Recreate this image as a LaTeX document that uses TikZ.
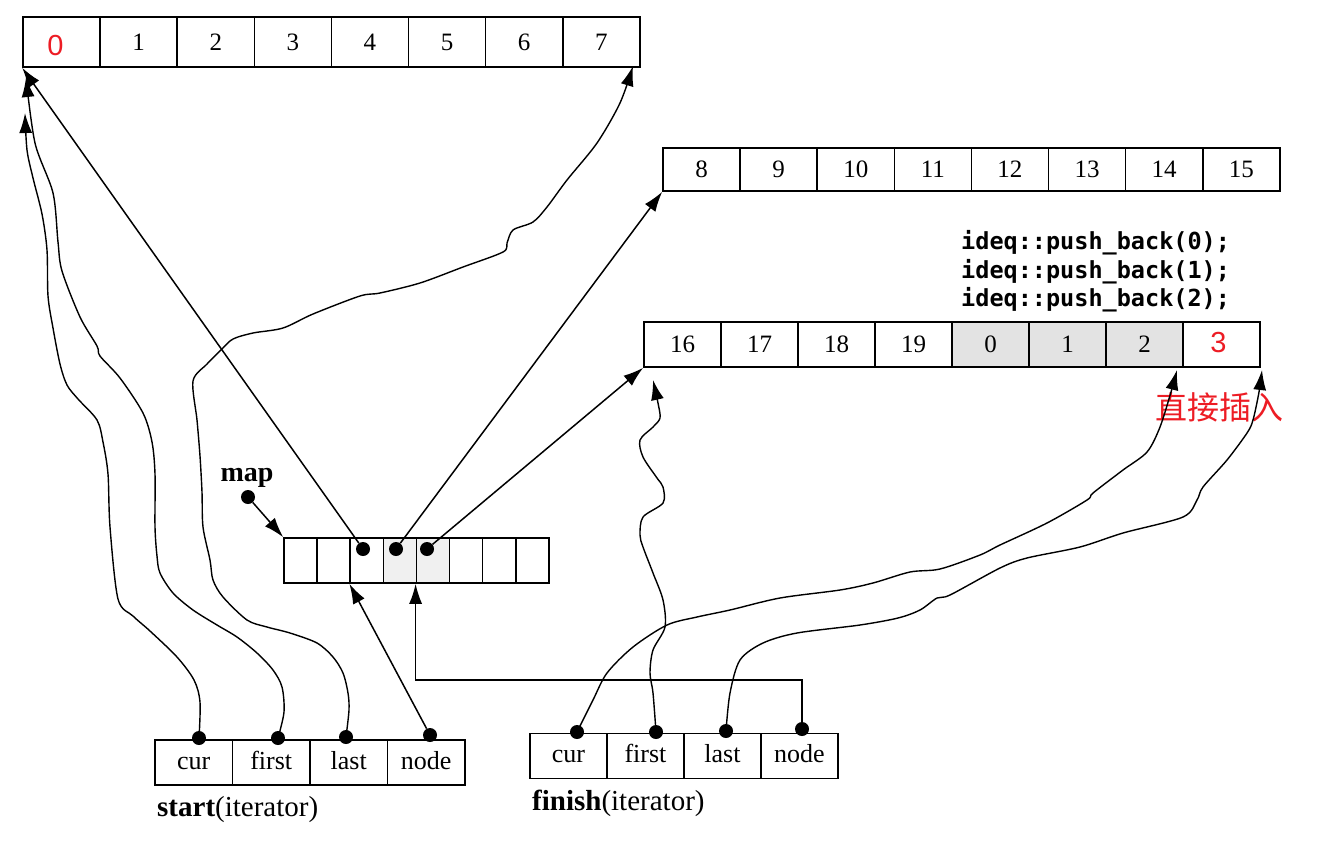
\documentclass[tikz,border=0pt]{standalone}
\usepackage{fontspec}
\setmainfont{Liberation Serif}
\newfontfamily\codefont{DejaVu Sans Mono}
\newfontfamily\cjkfont{Noto Sans CJK SC}
\newfontfamily\redsans{Liberation Sans}
\usetikzlibrary{arrows.meta}
\definecolor{redtxt}{RGB}{237,28,36}
\newcommand\rednum[1]{{\redsans\fontsize{29}{29}\selectfont\color{redtxt}#1}}
\begin{document}
\begin{tikzpicture}[x=1pt,y=-1pt,
  bcell/.style={draw, line width=1.6pt, inner sep=0pt, minimum width=77.1pt, text height=17pt, text depth=1pt, font=\fontsize{25}{27}\selectfont},
  mcell/.style={draw, line width=1.6pt, inner sep=0pt, minimum width=33.1pt, minimum height=45pt},
  icell/.style={draw, line width=1.6pt, inner sep=0pt, minimum height=45pt, text height=18pt, text depth=5pt, font=\fontsize{26}{28}\selectfont},
  dot/.style={circle, fill=black, inner sep=0pt, minimum size=14pt},
  ptr/.style={line width=1.5pt, -{Latex[length=20pt,width=13pt]}},
  wig/.style={line width=1.4pt, -{Latex[length=20pt,width=13pt]}},
  lab/.style={font=\fontsize{29}{31}\selectfont, inner sep=0pt},
  code/.style={font=\codefont\bfseries\fontsize{23.5}{24}\selectfont, anchor=west, inner sep=0pt}
]
\fill[white] (0,0) rectangle (1321,844);
\useasboundingbox (0,0) rectangle (1321,844);

% buffer 1
\foreach \t [count=\i from 0] in {{\hspace*{-12pt}\raisebox{-5pt}{\rednum{0}}},1,2,3,4,5,6,7}
  \node[bcell, minimum height=50pt] (a\i) at ({23+77.1*\i+38.55},42) {\t};
% buffer 2
\foreach \t [count=\i from 0] in {8,9,10,11,12,13,14,15}
  \node[bcell, minimum height=43pt] (b\i) at ({663+77.1*\i+38.55},169.5) {\t};
% buffer 3
\foreach \t/\f [count=\i from 0] in {16/white,17/white,18/white,19/white,0/gray!22,1/gray!22,2/gray!22,{\hspace*{-6pt}\rednum{3}}/white}
  \node[bcell, minimum height=45pt, fill=\f] (c\i) at ({644+77*\i+38.5},344.5) {\t};

% code text
\node[code] (l1) at (961,243) {ideq::push\_back(0);};
\node[code] (l2) at (961,272) {ideq::push\_back(1);};
\node[code] (l3) at (961,300) {ideq::push\_back(2);};
\node[font=\cjkfont\fontsize{32}{32}\selectfont, text=redtxt, inner sep=0pt] (zj) at (1219,407) {直接插入};

% map
\foreach \f [count=\i from 0] in {white,white,white,gray!12,gray!12,white,white,white}
  \node[mcell, fill=\f] (m\i) at ({284+33.1*\i+16.55},560.5) {};
\node[lab, font=\bfseries\fontsize{28}{30}\selectfont] (maplab) at (247,478) {map};
\node[dot] (mapd) at (248,497) {};
\node[dot] (m2d) at (363,549) {};
\node[dot] (m3d) at (396,549) {};
\node[dot] (m4d) at (427,549) {};

% start iterator
\foreach \t [count=\i from 0] in {cur,first,last,node}
  \node[icell, minimum width=77.5pt] (s\i) at ({155+77.5*\i+38.75},762.5) {\t};
\node[lab, anchor=west] (slab) at (157,810) {\textbf{start}(iterator)};
\node[dot] (scd) at (199,738) {};
\node[dot] (sfd) at (278,738) {};
\node[dot] (sld) at (346,737) {};
\node[dot] (snd) at (430,735) {};

% finish iterator
\foreach \t [count=\i from 0] in {cur,first,last,node}
  \node[icell, minimum width=77pt] (f\i) at ({530+77*\i+38.5},756) {\t};
\node[lab, anchor=west] (flab) at (532,803) {\textbf{finish}(iterator)};
\node[dot] (fcd) at (577,732) {};
\node[dot] (ffd) at (656,732) {};
\node[dot] (fld) at (726,731) {};
\node[dot] (fnd) at (802,729) {};

% tip coordinates
\coordinate (tcur) at (25,113);
\coordinate (tfirst) at (26,77);
\coordinate (tlast) at (633,66);
\coordinate (fk) at (802,680);
\coordinate (tfcur) at (1177,370);
\coordinate (tffirst) at (653,380);
\coordinate (tflast) at (1262,370);

% straight pointers
\draw[ptr] (mapd) -- (m0.north west);
\draw[ptr] (m2d) -- (a0.south west);
\draw[ptr] (m3d) -- (b0.south west);
\draw[ptr] (m4d) -- (c0.south west);
\draw[ptr] (snd) -- (m2.south west);
\draw[ptr] (fnd) -- (fk) -| (m4.south west);

% start curves
\draw[wig] plot[smooth, tension=0.5] coordinates {(scd) (200,702) (194,680) (177,657) (150,631) (133,616) (118,599) (110,527) (108,474) (103,442) (97,420) (78,399) (67,385) (60,364) (53,328) (48,296) (47,250) (42,214) (33,178) (27,150) (tcur)};
\draw[wig] plot[smooth, tension=0.5] coordinates {(sfd) (284,712) (282,687) (273,670) (257,653) (237,637) (217,625) (193,610) (173,593) (160,573) (157,556) (155,527) (155,474) (152,442) (143,413) (120,378) (100,356) (97,346) (80,317) (62,271) (58,242) (53,193) (35,143) (tfirst)};
\draw[wig] plot[smooth, tension=0.5] coordinates {(sld) (349,710) (348,693) (343,673) (333,657) (317,643) (290,633) (267,627) (247,620) (223,597) (213,580) (210,560) (203,527) (202,492) (200,456) (197,420) (193,381) (207,364) (222,349) (233,339) (253,333) (283,328) (313,314) (360,296) (380,293) (420,283) (463,267) (503,252) (507,243) (513,230) (533,222) (547,207) (567,180) (597,143) (620,103) (tlast)};

% finish curves
\draw[wig] plot[smooth, tension=0.5] coordinates {(fcd) (593,700) (607,673) (633,647) (667,625) (697,617) (730,610) (780,598) (840,590) (873,583) (910,572) (940,569) (980,555) (1000,545) (1047,523) (1087,500) (1093,493) (1123,470) (1147,452) (1160,427) (1171,392) (tfcur)};
\draw[wig] plot[smooth, tension=0.5] coordinates {(ffd) (653,693) (650,673) (653,650) (665,627) (663,600) (653,573) (643,547) (640,535) (643,517) (663,503) (663,487) (657,478) (643,457) (640,440) (653,427) (660,418) (658,403) (tffirst)};
\draw[wig] plot[smooth, tension=0.5] coordinates {(fld) (730,693) (740,660) (763,643) (797,633) (860,625) (898,618) (920,610) (937,598) (950,595) (1000,568) (1027,558) (1080,547) (1123,533) (1183,517) (1197,500) (1203,487) (1227,460) (1247,433) (1253,420) (1259,392) (tflast)};
\end{tikzpicture}
\end{document}
